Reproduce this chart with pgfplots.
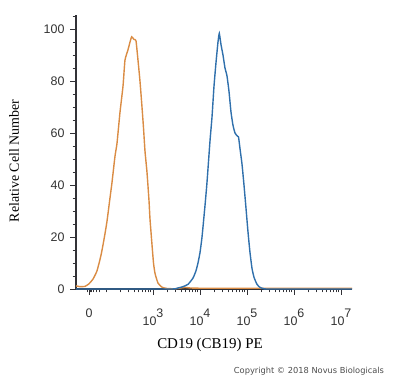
\documentclass[border=0pt]{standalone}
\usepackage{fontspec}
\setmainfont{Liberation Serif}
\newfontfamily\sansf{Liberation Sans}
\newfontfamily\copyf{DejaVu Sans}
\usepackage{pgfplots}
\pgfplotsset{compat=1.18}
\definecolor{orangec}{RGB}{218,140,68}
\definecolor{bluec}{RGB}{48,112,172}
\definecolor{axisc}{RGB}{50,50,55}
\begin{document}
\begin{tikzpicture}[x=1bp,y=1bp]
\useasboundingbox (0,0) rectangle (400,378);
\begin{axis}[
  at={(76bp,89bp)}, anchor=south west,
  scale only axis, width=276bp, height=274bp,
  xmin=1.362, xmax=7.234, ymin=0, ymax=105.4,
  axis lines*=left,
  axis line style={axisc, line width=1.8bp},
  tick align=outside,
  tick style={axisc, line width=0.9bp},
  major tick length=6bp, minor tick length=3.5bp,
  /pgf/number format/assume math mode=true,
  xtick={1.638,3,4,5,6,7},
  xticklabels={0,
    10\raisebox{1.25ex}{3},
    10\raisebox{1.25ex}{4},
    10\raisebox{1.25ex}{5},
    10\raisebox{1.25ex}{6},
    10\raisebox{1.25ex}{7}},
  minor xtick={1.60,1.66,1.70,1.74,1.80,1.87,2.0,2.301,2.477,2.602,2.699,2.778,2.845,2.903,2.954,
    3.301,3.477,3.602,3.699,3.778,3.845,3.903,3.954,
    4.301,4.477,4.602,4.699,4.778,4.845,4.903,4.954,
    5.301,5.477,5.602,5.699,5.778,5.845,5.903,5.954,
    6.301,6.477,6.602,6.699,6.778,6.845,6.903,6.954},
  ytick={0,20,40,60,80,100},
  minor ytick={5,10,15,25,30,35,45,50,55,65,70,75,85,90,95,105},
  xticklabel style={font=\sansf\fontsize{12.5}{14}\selectfont, text=black!80, yshift=-10bp},
  yticklabel style={font=\sansf\fontsize{12.5}{14}\selectfont, text=black!80, xshift=-2bp},
  clip=false,
]
\addplot[orangec, line width=1.4bp, smooth, tension=0.3] coordinates {
(1.362,1.2) (1.447,0.9) (1.553,1.0) (1.638,2.0) (1.723,3.8) (1.809,7) (1.894,13)
(1.957,19) (2.021,26) (2.085,35) (2.128,41) (2.191,51) (2.234,56) (2.298,68)
(2.362,78) (2.404,88) (2.468,92) (2.511,95) (2.547,97) (2.596,96) (2.638,95.5)
(2.681,88) (2.723,80) (2.766,70) (2.798,62) (2.830,53) (2.872,45) (2.915,34)
(2.936,27) (2.979,17) (3.011,10) (3.043,6) (3.106,2.3) (3.191,0.7) (3.298,0.2)
(3.468,0.1) (3.681,0.6) (3.787,0.4) (4.0,0.3) (5.064,0.3) (7.234,0.3)
};
\addplot[bluec, line width=1.4bp, smooth, tension=0.3] coordinates {
(1.362,0) (3.362,0) (3.511,0.3) (3.638,0.9) (3.745,1.8) (3.851,4.2) (3.915,7)
(3.957,10) (4.000,14) (4.043,20) (4.106,32) (4.149,41) (4.213,57) (4.255,66)
(4.298,78) (4.340,87) (4.383,95) (4.411,98.3) (4.447,94) (4.489,90) (4.532,85)
(4.574,82) (4.617,76) (4.660,68) (4.702,63) (4.745,60) (4.787,59) (4.819,58.5)
(4.851,54) (4.894,48) (4.936,40) (4.979,31) (5.021,22) (5.064,14) (5.106,8)
(5.149,4.5) (5.213,1.8) (5.277,0.6) (5.362,0.1) (5.489,0) (7.234,0)
};
\end{axis}
\node[rotate=90, font=\fontsize{14}{16}\selectfont] at (14,217) {Relative Cell Number};
\node[font=\fontsize{15}{17}\selectfont] at (210,33) {CD19 (CB19) PE};
\node[font=\copyf\fontsize{8.3}{10}\selectfont, text=black!70] at (309,7) {Copyright \textcopyright{} 2018 Novus Biologicals};
\end{tikzpicture}
\end{document}
